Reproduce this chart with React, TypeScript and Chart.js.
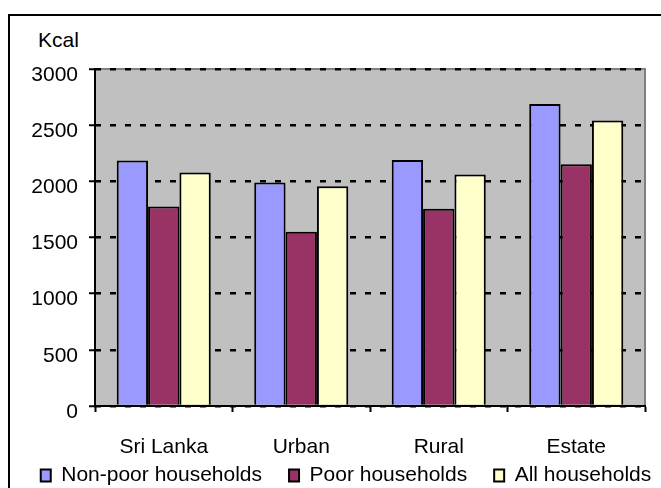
import React, { useEffect, useRef } from "react";
import { Chart, registerables } from "chart.js";

Chart.register(...registerables);

const categories = ["Sri Lanka", "Urban", "Rural", "Estate"];
const nonPoor = [2185, 1990, 2190, 2688];
const poor = [1775, 1552, 1755, 2153];
const allHouseholds = [2078, 1957, 2060, 2542];
const seriesNames = ["Non-poor households", "Poor households", "All households"];
const seriesColors = ["#9999FF", "#993366", "#FFFFCC"];
const yTicks = [0, 500, 1000, 1500, 2000, 2500, 3000];
const yUnit = "Kcal";

const FONT_FAMILY = '"Liberation Sans", Arial, sans-serif';
const FONT_SIZE = 21;

const plotBg = {
  id: "plotBg",
  beforeDraw(chart: any) {
    const { ctx, chartArea: a } = chart;
    ctx.save();
    ctx.fillStyle = "#C0C0C0";
    ctx.fillRect(a.left, a.top, a.right - a.left, a.bottom - a.top);
    ctx.strokeStyle = "#808080";
    ctx.lineWidth = 2;
    ctx.beginPath();
    ctx.moveTo(a.left, a.top);
    ctx.lineTo(a.right, a.top);
    ctx.lineTo(a.right, a.bottom);
    ctx.stroke();
    ctx.restore();
  },
};

export default function App() {
  const ref = useRef<HTMLCanvasElement | null>(null);

  useEffect(() => {
    if (!ref.current) return;
    const font = { family: FONT_FAMILY, size: FONT_SIZE };
    const values = [nonPoor, poor, allHouseholds];
    const chart = new Chart(ref.current, {
      type: "bar",
      data: {
        labels: categories,
        datasets: seriesNames.map((name, i) => ({
          label: name,
          data: values[i],
          backgroundColor: seriesColors[i],
          borderColor: "#000",
          borderWidth: 2,
          barPercentage: 1,
          categoryPercentage: 0.684,
        })),
      },
      options: {
        animation: false,
        responsive: false,
        devicePixelRatio: 1,
        layout: { padding: { top: 69, left: 0, right: 0, bottom: 0 } },
        plugins: {
          tooltip: { enabled: false },
          legend: {
            position: "bottom",
            labels: {
              boxWidth: 10,
              boxHeight: 12,
              padding: 27,
              color: "#000",
              font,
            },
          },
        },
        scales: {
          x: {
            offset: true,
            afterFit(s: any) {
              const lh = s.chart.legend ? s.chart.legend.height : 58;
              s.height = s.chart.height - lh - 406;
            },
            ticks: {
              color: "#000",
              font,
              padding: -54,
              mirror: true,
              maxRotation: 0,
              autoSkip: false,
            },
            grid: {
              display: true,
              drawOnChartArea: false,
              drawTicks: true,
              tickLength: 6,
              tickColor: "#000",
              tickWidth: 2,
              offset: true,
            },
            border: { display: true, color: "#000", width: 2 },
          },
          y: {
            min: 0,
            max: 3000,
            afterBuildTicks(s: any) {
              s.ticks = yTicks.map((v) => ({ value: v }));
            },
            afterFit(s: any) {
              s.width = 95;
            },
            ticks: {
              color: "#000",
              font,
              padding: 11,
              labelOffset: 6,
              callback: (v: any) => String(v),
            },
            grid: {
              color: "#000",
              lineWidth: 2.5,
              tickLength: 6,
              tickColor: "#000",
              tickWidth: 2,
              tickBorderDash: [],
            },
            border: { display: true, color: "#000", width: 2, dash: [6, 9], dashOffset: 1 },
          },
          y2: {
            position: "right",
            display: true,
            min: 0,
            max: 3000,
            afterFit(s: any) {
              s.width = 47;
            },
            ticks: { display: false },
            grid: { display: false, drawTicks: false },
            border: { display: false },
          },
        },
      },
      plugins: [plotBg],
    } as any);
    return () => chart.destroy();
  }, []);

  return (
    <div
      style={{
        position: "fixed",
        left: 0,
        top: 0,
        width: 661,
        height: 488,
        overflow: "hidden",
        background: "#fff",
      }}
    >
      <div
        style={{
          position: "absolute",
          left: 8,
          top: 14,
          width: 800,
          height: 600,
          border: "2px solid #000",
          boxSizing: "border-box",
        }}
      />
      <div
        style={{
          position: "absolute",
          left: 38,
          top: 28,
          fontFamily: FONT_FAMILY,
          fontSize: FONT_SIZE,
          lineHeight: "24px",
          color: "#000",
        }}
      >
        {yUnit}
      </div>
      <canvas
        ref={ref}
        width={692}
        height={496}
        style={{ position: "absolute", left: 0, top: 0 }}
      />
    </div>
  );
}
